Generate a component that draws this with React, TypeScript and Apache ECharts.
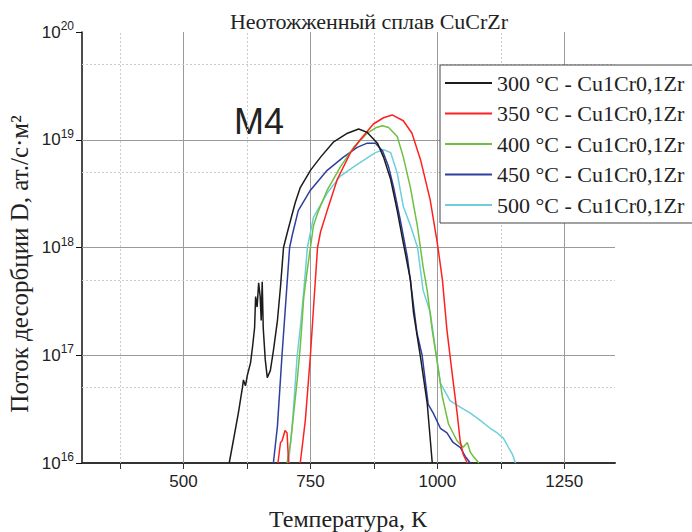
import { useEffect, useRef } from "react";
import * as echarts from "echarts";

const chartTitle = "Неотожженный сплав CuCrZr";
const xAxisName = "Температура, К";
const yAxisName = "Поток десорбции D, ат./с·м²";
const peakLabel = "M4";

const seriesNames = [
  "300 °C - Cu1Cr0,1Zr",
  "350 °C - Cu1Cr0,1Zr",
  "400 °C - Cu1Cr0,1Zr",
  "450 °C - Cu1Cr0,1Zr",
  "500 °C - Cu1Cr0,1Zr",
];
const seriesColors = ["#1c1c1c", "#ff2020", "#6fbf40", "#2f3f9f", "#6ccfda"];

const xLabelValues = [500, 750, 1000, 1250];
const xTickValues = [375, 500, 625, 750, 875, 1000, 1125, 1250];
const xMajorGrid = [500, 750, 1000, 1250];
const xMinorGrid = [375, 625, 875, 1125];
const yMajorGrid = [1e17, 1e18, 1e19];
const yMinorGrid = [5e16, 5e17, 5e18, 5e19];

type Pt = [number, number | null];

const flux300: Pt[] = [
  [590, 1.0e16], [598, 1.6e16], [608, 2.9e16], [616, 5.0e16], [618, 5.9e16],
  [622, 5.2e16], [626, 6.6e16], [632, 8.5e16], [636, 1.2e17], [640, 1.8e17],
  [642, 3.5e17], [645, 2.8e17], [648, 4.7e17], [651, 3.5e17], [653, 2.1e17],
  [655, 4.8e17], [657, 1.8e17], [661, 9.1e16], [665, 6.2e16], [671, 7.2e16],
  [677, 1.1e17], [685, 2.1e17], [691, 4.3e17], [697, 1.0e18], [704, 1.35e18],
  [711, 1.8e18], [720, 2.6e18], [730, 3.6e18], [750, 5.2e18], [770, 6.9e18],
  [795, 9.5e18], [823, 1.15e19], [845, 1.26e19], [862, 1.17e19], [882, 9.3e18],
  [894, 6.9e18], [908, 4.3e18], [921, 2.2e18], [933, 1.1e18], [947, 5.0e17],
  [953, 2.5e17], [967, 9.5e16], [980, 3.6e16], [990, 1.0e16],
];

const flux350: Pt[] = [
  [686, 1.0e16], [691, 1.55e16], [694, 1.6e16], [700, 2.0e16], [704, 1.9e16],
  [707, 1.0e16], [718, null],
  [730, 1.0e16], [740, 2.5e16], [750, 1.0e17], [757, 3.2e17], [764, 1.0e18],
  [770, 1.4e18], [783, 2.2e18], [803, 4.3e18], [829, 7.6e18], [848, 1.0e19],
  [874, 1.4e19], [894, 1.6e19], [911, 1.7e19], [933, 1.5e19], [950, 1.15e19],
  [967, 6.5e18], [986, 2.75e18], [1000, 1.1e18], [1010, 5.0e17], [1019, 1.7e17],
  [1029, 6.9e16], [1039, 2.9e16], [1045, 1.6e16], [1051, 1.2e16], [1059, 1.0e16],
];

const flux400: Pt[] = [
  [704, 1.0e16], [711, 1.55e16], [717, 2.9e16], [724, 5.9e16], [730, 1.2e17],
  [737, 3.5e17], [744, 6.3e17], [750, 1.0e18], [756, 1.6e18], [766, 2.2e18],
  [783, 3.4e18], [809, 5.6e18], [835, 8.5e18], [862, 1.15e19], [880, 1.3e19],
  [892, 1.35e19], [904, 1.3e19], [921, 1.07e19], [933, 6.9e18], [947, 3.6e18],
  [961, 1.55e18], [972, 6.6e17], [980, 4.0e17], [990, 1.7e17], [1000, 8.5e16],
  [1010, 4.1e16], [1022, 2.3e16], [1039, 1.6e16], [1051, 1.4e16], [1059, 1.55e16],
  [1065, 1.26e16], [1071, 1.15e16], [1082, 1.0e16],
];

const flux450: Pt[] = [
  [677, 1.0e16], [685, 2.2e16], [694, 1.0e17], [700, 2.5e17], [709, 1.0e18],
  [715, 1.35e18], [726, 2.2e18], [750, 3.4e18], [783, 5.2e18], [815, 6.9e18],
  [842, 8.5e18], [862, 9.3e18], [878, 9.3e18], [892, 7.9e18], [904, 5.6e18],
  [914, 3.6e18], [927, 1.8e18], [941, 8.1e17], [950, 3.8e17], [960, 1.6e17],
  [970, 1.0e17], [976, 5.9e16], [982, 3.5e16], [992, 2.9e16], [1006, 2.1e16],
  [1019, 1.9e16], [1031, 1.55e16], [1045, 1.4e16], [1055, 1.15e16], [1065, 1.0e16],
];

const flux500: Pt[] = [
  [707, 1.0e16], [715, 2.5e16], [724, 1.0e17], [730, 1.8e17], [737, 4.0e17],
  [744, 1.0e18], [756, 1.9e18], [783, 3.2e18], [809, 4.6e18], [835, 5.6e18],
  [862, 6.8e18], [878, 7.6e18], [894, 8.1e18], [908, 7.6e18], [921, 4.9e18],
  [933, 2.4e18], [947, 1.6e18], [961, 1.0e18], [972, 4.0e17], [986, 2.5e17],
  [998, 1.0e17], [1006, 5.5e16], [1025, 3.8e16], [1045, 3.3e16], [1065, 2.9e16],
  [1084, 2.5e16], [1104, 2.1e16], [1118, 1.9e16], [1130, 1.7e16], [1140, 1.4e16],
  [1148, 1.2e16], [1154, 1.0e16],
];

const allFlux = [flux300, flux350, flux400, flux450, flux500];

const SERIF = "'Liberation Serif', 'Times New Roman', serif";
const SANS = "'Liberation Sans', Arial, sans-serif";

export default function App() {
  const ref = useRef<HTMLDivElement>(null);
  useEffect(() => {
    if (!ref.current) return;
    const chart = echarts.init(ref.current, undefined, { renderer: "svg" });
    const gridLines: any[] = [
      ...xMajorGrid.map((v) => ({ xAxis: v, lineStyle: { color: "#9a9a9a", width: 1, type: "solid" } })),
      ...xMinorGrid.map((v) => ({ xAxis: v, lineStyle: { color: "#cccccc", width: 1, type: [2, 2] } })),
      ...yMajorGrid.map((v) => ({ yAxis: v, lineStyle: { color: "#9a9a9a", width: 1, type: "solid" } })),
      ...yMinorGrid.map((v) => ({ yAxis: v, lineStyle: { color: "#cccccc", width: 1, type: [2, 2] } })),
    ];
    chart.setOption({
      animation: false,
      backgroundColor: "#ffffff",
      grid: { left: 82, right: 77, top: 32, bottom: 69 },
      legend: {
        data: seriesNames,
        orient: "vertical",
        left: 440,
        top: 65,
        z: 50,
        zlevel: 0,
        padding: [7, 40, 7, 5],
        icon: "rect",
        itemWidth: 47,
        itemHeight: 2,
        itemGap: 8.5,
        borderColor: "#444",
        borderWidth: 1,
        backgroundColor: "#fff",
        textStyle: { fontFamily: SERIF, fontSize: 22, color: "#222", lineHeight: 22 },
      },
      xAxis: {
        type: "value",
        min: 300,
        max: 1350,
        axisLine: { show: true, onZero: false, lineStyle: { color: "#333", width: 2 } },
        axisTick: { show: true, customValues: xTickValues, length: 6, lineStyle: { color: "#333", width: 1 } },
        axisLabel: {
          customValues: xLabelValues,
          formatter: (v: number) => String(v),
          fontFamily: SANS,
          fontSize: 17,
          color: "#222",
          margin: 10,
        },
        splitLine: { show: false },
      },
      yAxis: {
        type: "log",
        logBase: 10,
        min: 1e16,
        max: 1e20,
        axisLine: { show: true, onZero: false, lineStyle: { color: "#111", width: 1.5 } },
        axisTick: { show: true, length: 6, lineStyle: { color: "#111", width: 1 } },
        splitLine: { show: false },
        axisLabel: {
          margin: 8,
          fontFamily: SANS,
          fontSize: 17,
          color: "#222",
          formatter: (v: number) => "10{sup|" + Math.round(Math.log10(v)) + "}",
          rich: {
            sup: { fontSize: 12, fontFamily: SANS, color: "#222", padding: [0, 0, 12, 0] },
          },
        },
      },
      graphic: [
        { type: "text", x: 369, y: 21, style: { text: chartTitle, font: "22px " + SERIF, fill: "#222", textAlign: "center", textVerticalAlign: "middle" } },
        { type: "text", x: 348, y: 519, style: { text: xAxisName, font: "24px " + SERIF, fill: "#222", textAlign: "center", textVerticalAlign: "middle" } },
        { type: "text", x: 19, y: 264, rotation: Math.PI / 2, style: { text: yAxisName, font: "25px " + SERIF, fill: "#222", textAlign: "center", textVerticalAlign: "middle" } },
        { type: "text", x: 259, y: 121, style: { text: peakLabel, font: "36px " + SANS, fill: "#222", textAlign: "center", textVerticalAlign: "middle" } },
      ],
      series: [
        {
          name: "grid",
          type: "line",
          data: [],
          silent: true,
          z: 1,
          markLine: { silent: true, z: 1, symbol: ["none", "none"], label: { show: false }, data: gridLines },
        },
        ...allFlux.map((d, i) => ({
          name: seriesNames[i],
          type: "line",
          data: d,
          symbol: "none",
          connectNulls: false,
          z: 8 - i,
          lineStyle: { color: seriesColors[i], width: 1.5 },
          itemStyle: { color: seriesColors[i] },
        })),
      ],
    });
    return () => chart.dispose();
  }, []);
  return <div ref={ref} style={{ position: "fixed", left: 0, top: 0, width: 692, height: 532 }} />;
}
